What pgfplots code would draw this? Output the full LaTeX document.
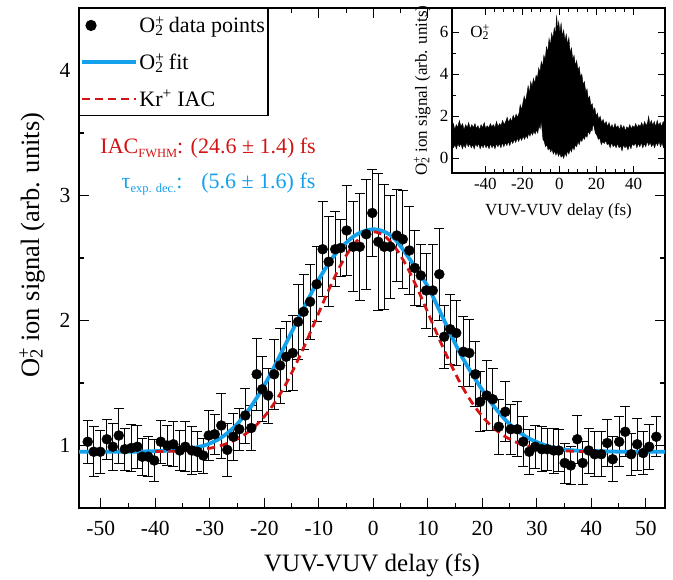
\documentclass[border=0pt]{standalone}
\usepackage{fontspec}
\setmainfont{Liberation Serif}
\usepackage{pgfplots}
\usepackage{pgfplotstable}
\pgfplotsset{compat=1.18}
\definecolor{fitblue}{RGB}{20,160,235}
\definecolor{iacred}{RGB}{210,20,20}
\newcommand{\Otwo}{O\makebox[0pt][l]{\textsuperscript{+}}\textsubscript{2}}
\newcommand{\smallsub}[1]{\raisebox{-0.4ex}{\fontsize{12.5}{12.5}\selectfont #1}}
\pgfplotsset{mylinelegend/.style={legend image code/.code={\draw[##1] (0pt,0pt) -- (53pt,0pt);}}}

\pgfplotstableread{
x y e
-52.4 1.03 0.17
-51.3 0.95 0.20
-50.1 0.95 0.17
-48.9 1.05 0.16
-47.8 0.99 0.19
-46.7 1.08 0.22
-45.6 0.97 0.17
-44.4 0.98 0.19
-43.3 0.99 0.17
-42.4 0.91 0.15
-41.3 0.91 0.16
-40.2 0.88 0.17
-39.0 1.03 0.17
-37.8 1.00 0.16
-36.7 1.01 0.18
-35.5 0.96 0.16
-34.5 0.99 0.20
-33.3 0.96 0.19
-32.3 0.95 0.16
-31.2 0.92 0.14
-30.2 1.08 0.20
-29.1 1.09 0.16
-27.9 1.16 0.26
-26.8 0.965 0.21
-25.7 1.07 0.19
-24.6 1.13 0.17
-23.5 1.24 0.22
-22.4 1.14 0.18
-21.4 1.57 0.29
-20.4 1.45 0.26
-19.3 1.40 0.22
-18.2 1.57 0.28
-17.1 1.64 0.30
-16.0 1.71 0.28
-14.8 1.74 0.30
-13.8 1.99 0.30
-12.8 2.07 0.30
-11.6 2.15 0.30
-10.4 2.29 0.30
-9.3 2.57 0.38
-8.2 2.47 0.36
-7.0 2.57 0.30
-6.0 2.58 0.23
-4.9 2.72 0.36
-3.7 2.59 0.36
-2.5 2.59 0.43
-1.3 2.69 0.44
-0.2 2.86 0.35
0.9 2.63 0.55
2.0 2.59 0.50
3.1 2.59 0.41
4.3 2.68 0.37
5.4 2.65 0.39
6.6 2.56 0.35
7.6 2.42 0.30
8.7 2.36 0.25
9.7 2.24 0.30
10.9 2.24 0.37
12.1 2.37 0.37
13.0 1.87 0.25
14.1 1.93 0.28
15.2 1.90 0.26
16.5 1.75 0.28
17.6 1.74 0.27
18.7 1.57 0.26
19.6 1.35 0.24
20.8 1.40 0.28
21.9 1.37 0.25
23.0 1.15 0.22
24.2 1.27 0.24
25.2 1.13 0.20
26.4 1.13 0.22
27.5 1.03 0.20
28.6 0.95 0.18
29.7 0.99 0.17
30.9 0.97 0.18
31.9 0.97 0.17
33.1 0.96 0.18
34.0 0.96 0.17
35.1 0.86 0.16
36.2 0.84 0.15
37.4 1.05 0.19
38.4 0.86 0.17
39.5 0.96 0.18
40.6 0.93 0.18
41.8 0.93 0.18
42.9 1.02 0.19
43.9 0.89 0.18
45.1 1.03 0.20
46.2 1.11 0.20
47.3 0.93 0.17
48.4 1.01 0.21
49.5 0.94 0.17
50.6 0.99 0.18
51.9 1.07 0.16
}\datatable

\pgfplotstableread{
x y
-54 0.95
-45 0.95
-40 0.955
-37 0.96
-34 0.975
-31 1.00
-28 1.06
-25 1.17
-22 1.34
-19 1.56
-16 1.82
-13 2.08
-10 2.33
-7 2.53
-4 2.66
-2 2.71
0 2.73
2 2.71
4 2.65
7 2.47
10 2.27
13 2.00
16 1.73
19 1.51
22 1.32
25 1.17
28 1.07
31 1.01
34 0.975
37 0.96
41 0.955
46 0.95
53.5 0.95
}\fittable

\pgfplotstableread{
x y
-40 0.951
-36 0.955
-33 0.962
-30 0.978
-28 0.999
-26 1.030
-24 1.076
-22 1.142
-20 1.232
-18 1.349
-16 1.495
-14 1.668
-12 1.860
-10 2.063
-8 2.263
-6 2.443
-4 2.585
-2 2.678
0 2.710
2 2.678
4 2.585
6 2.443
8 2.263
10 2.063
12 1.860
14 1.668
16 1.495
18 1.349
20 1.232
22 1.142
24 1.076
26 1.030
28 0.999
30 0.978
33 0.962
36 0.955
40 0.951
42 0.950
}\iactable

\pgfplotstableread{
x y
-58 1.45
-57.2 1.65
-56.5 1.35
-55.7 1.6
-55 1.45
-54 1.8
-53.2 1.5
-52.3 1.65
-51.5 1.35
-50.6 1.6
-49.8 1.45
-49 1.7
-48.2 1.4
-47.3 1.6
-46.5 1.45
-45.6 1.65
-44.8 1.4
-44 1.55
-43.1 1.35
-42.3 1.6
-41.5 1.45
-40.6 1.7
-39.8 1.4
-39 1.55
-38.1 1.45
-37.3 1.65
-36.5 1.5
-35.6 1.6
-34.8 1.45
-34 1.75
-33.1 1.5
-32.3 1.65
-31.5 1.55
-30.7 1.8
-29.8 1.6
-29 1.75
-28.2 1.95
-27.4 1.7
-26.5 1.9
-25.7 1.75
-25 2.05
-24.2 1.85
-23.4 2.1
-22.6 1.95
-21.8 2.15
-21.2 2.55
-20.5 2.3
-19.8 2.6
-19 2.95
-18.3 2.7
-17.5 3.1
-16.9 3.45
-16.2 3.1
-15.5 3.65
-14.8 3.4
-14 3.8
-13.3 3.55
-12.6 3.95
-11.9 3.8
-11.2 4.3
-10.5 4.1
-9.8 4.6
-9.1 4.35
-8.4 4.9
-7.7 4.7
-7 5.3
-6.3 5.05
-5.6 5.7
-4.9 5.35
-4.2 5.95
-3.5 5.7
-2.8 6.2
-2.1 5.9
-1.5 6.8
-1 6.1
-0.4 6.5
0.3 5.95
0.9 6.45
1.6 5.8
2.3 6.1
3 5.6
3.7 5.9
4.4 5.4
5.1 5.75
5.8 5.0
6.5 5.25
7.2 4.7
7.9 4.9
8.6 4.4
9.3 4.65
10 4.2
10.7 4.35
11.4 3.85
12.1 4.0
12.8 3.5
13.5 3.65
14.2 3.15
14.9 3.3
15.6 2.8
16.3 2.95
17 2.5
17.7 2.6
18.4 2.25
19.1 2.4
19.8 2.0
20.5 2.15
21.2 1.85
22 2.0
22.8 1.7
23.6 1.85
24.4 1.6
25.2 1.75
26 1.5
26.8 1.7
27.6 1.45
28.4 1.6
29.2 1.4
30 1.65
30.8 1.45
31.6 1.55
32.4 1.35
33.2 1.6
34 1.4
34.8 1.55
35.6 1.3
36.4 1.5
37.2 1.4
38 1.6
38.8 1.4
39.6 1.55
40.4 1.45
41.2 1.65
42 1.45
42.8 1.6
43.6 1.5
44.4 1.7
45.2 1.5
46 1.75
46.8 1.55
47.6 1.7
48.2 2.0
48.8 1.6
49.6 1.8
50.4 1.55
51.2 1.75
52 1.5
52.8 1.8
53.6 1.55
54.4 1.7
55.2 1.5
56 1.75
57 1.55
57 0.7
56.2 0.5
55.4 0.75
54.6 0.55
53.8 0.8
53 0.6
52.2 0.75
51.4 0.5
50.6 0.7
49.8 0.55
49 0.75
48.2 0.6
47.4 0.8
46.6 0.55
45.8 0.7
45 0.5
44.2 0.75
43.4 0.55
42.6 0.7
41.8 0.5
41 0.75
40.2 0.6
39.4 0.7
38.6 0.45
37.8 0.65
37 0.4
36.2 0.6
35.4 0.5
34.6 0.65
33.8 0.35
33 0.6
32.2 0.5
31.4 0.7
30.6 0.5
29.8 0.65
29 0.55
28.2 0.75
27.4 0.5
26.6 0.7
25.8 0.65
25 0.85
24.2 0.7
23.4 0.8
22.6 0.65
21.8 0.95
21 0.9
20.2 1.1
19.4 1.2
18.7 1.5
18.2 1.65
17.6 1.3
17 1.35
16.3 1.15
15.6 1.3
14.9 1.0
14.2 1.1
13.5 0.9
12.8 1.0
12.1 0.8
11.4 0.9
10.7 0.65
10 0.8
9.3 0.55
8.6 0.65
7.9 0.4
7.2 0.55
6.5 0.3
5.8 0.45
5.1 0.2
4.4 0.35
3.7 0.1
3 0.25
2.3 0.0
1.6 0.15
0.9 0.05
0.2 0.25
-0.5 0.1
-1.2 0.3
-1.9 0.15
-2.6 0.35
-3.3 0.2
-4 0.45
-4.7 0.3
-5.4 0.5
-6.1 0.4
-6.8 0.65
-7.5 0.55
-8.2 0.8
-8.9 0.9
-9.5 1.5
-9.9 1.75
-10.4 1.4
-11 1.55
-11.7 1.2
-12.4 1.35
-13.1 1.15
-13.8 1.3
-14.5 1.1
-15.2 1.25
-15.9 1.05
-16.6 1.2
-17.3 0.95
-18 1.1
-18.8 0.9
-19.6 1.05
-20.4 0.85
-21.2 1.0
-22 0.8
-22.8 0.95
-23.6 0.75
-24.4 0.9
-25.2 0.7
-26 0.85
-26.8 0.6
-27.6 0.8
-28.4 0.6
-29.2 0.75
-30 0.55
-30.8 0.75
-31.6 0.5
-32.4 0.7
-33.2 0.55
-34 0.7
-34.8 0.45
-35.6 0.65
-36.4 0.5
-37.2 0.7
-38 0.45
-38.8 0.65
-39.6 0.5
-40.4 0.7
-41.2 0.5
-42 0.65
-42.8 0.45
-43.6 0.7
-44.4 0.55
-45.2 0.7
-46 0.45
-46.8 0.65
-47.6 0.5
-48.4 0.7
-49.2 0.55
-50 0.75
-50.8 0.5
-51.6 0.65
-52.4 0.45
-53.2 0.7
-54 0.55
-54.8 0.7
-55.6 0.45
-56.4 0.65
-57.2 0.5
-58 0.6
}\insettable

\begin{document}
\begin{tikzpicture}[x=1pt,y=1pt]
\useasboundingbox (0,0) rectangle (673,580);
\begin{axis}[
  at={(79pt,72pt)}, anchor=south west,
  scale only axis, width=586pt, height=500pt,
  xmin=-54, xmax=53.5, ymin=0.5, ymax=4.5,
  axis line style={line width=1.3pt},
  tick style={line width=1.1pt, black},
  major tick length=10pt, minor tick length=5pt,
  tick align=inside,
  xtick={-50,-40,...,50}, minor x tick num=1,
  ytick={1,2,3,4}, minor y tick num=1,
  /pgf/number format/assume math mode=true,
  ticklabel style={font=\fontsize{21.5}{21.5}\selectfont},
  xticklabel style={yshift=-10pt},
  yticklabel style={xshift=-5pt},
  xlabel={VUV-VUV delay (fs)},
  ylabel={\Otwo{} ion signal (arb. units)},
  xlabel style={font=\fontsize{25}{25}\selectfont, at={(axis description cs:0.5,-0.114)}, anchor=center},
  ylabel style={font=\fontsize{26.5}{26.5}\selectfont, at={(axis description cs:-0.080,0.526)}, anchor=center},
  legend style={at={(rel axis cs:0,1)}, anchor=north west, draw=black,
    line width=1.2pt, fill=white, font=\fontsize{22}{22}\selectfont,
    row sep=15pt, inner xsep=1pt, inner ysep=6pt},
  legend cell align=left,
]
\addplot[only marks, mark=*, mark size=5pt, black,
  error bars/.cd, y dir=both, y explicit,
  error bar style={line width=0.9pt, black},
  error mark options={rotate=90, mark size=5pt, line width=0.9pt, black}]
  table[x=x, y=y, y error=e] {\datatable};
\addlegendentry{\Otwo{} data points\hspace{30pt}}
\addplot[fitblue, line width=3.8pt, smooth, mylinelegend]
  table[x=x, y=y] {\fittable};
\addlegendentry{\Otwo{} fit}
\addplot[iacred, line width=2.8pt, dash pattern=on 8pt off 5pt, smooth, mylinelegend]
  table[x=x, y=y] {\iactable};
\addlegendentry{Kr\textsuperscript{+} IAC\rule[-16pt]{0pt}{16pt}}
\node[anchor=base west, text=iacred, font=\fontsize{22}{22}\selectfont, inner sep=0pt]
  at (axis cs:-50.1,3.336) {IAC\smallsub{FWHM}: (24.6 ± 1.4) fs};
\node[anchor=base west, text=fitblue, font=\fontsize{22}{22}\selectfont, inner sep=0pt]
  at (axis cs:-46.2,3.056) {τ\smallsub{exp. dec.}:};
\node[anchor=base west, text=fitblue, font=\fontsize{22}{22}\selectfont, inner sep=0pt]
  at (axis cs:-31.6,3.056) {(5.6 ± 1.6) fs};
\end{axis}
\begin{axis}[
  at={(452pt,407pt)}, anchor=south west,
  scale only axis, width=213pt, height=165pt,
  xmin=-58, xmax=57, ymin=-0.7, ymax=7.15,
  axis background/.style={fill=white},
  axis line style={line width=1.1pt},
  tick style={line width=0.9pt, black},
  major tick length=7pt, minor tick length=4pt,
  tick align=inside,
  xtick={-40,-20,...,40}, minor x tick num=3,
  ytick={0,2,4,6}, minor y tick num=1,
  /pgf/number format/assume math mode=true,
  ticklabel style={font=\fontsize{17}{17}\selectfont},
  xticklabel style={yshift=-2pt},
  xlabel={VUV-VUV delay (fs)},
  ylabel={\Otwo{} ion signal (arb. units)},
  label style={font=\fontsize{17}{17}\selectfont},
  xlabel style={at={(axis description cs:0.5,-0.23)}, anchor=center},
  ylabel style={at={(axis description cs:-0.14,0.5)}, anchor=center},
]
\addplot[fill=black, draw=black, line width=0.4pt] table[x=x, y=y] {\insettable} -- cycle;
\node[anchor=west, font=\fontsize{17}{17}\selectfont] at (axis cs:-50,6.0) {\Otwo};
\end{axis}
\end{tikzpicture}
\end{document}
